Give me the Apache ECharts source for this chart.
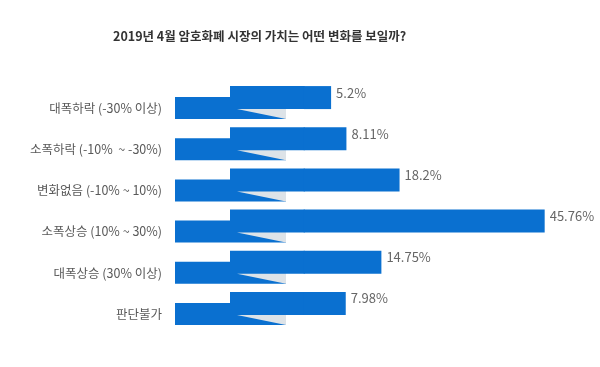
<!DOCTYPE html>
<html>
<head>
<meta charset="utf-8">
<script src="https://cdn.jsdelivr.net/npm/echarts@6/dist/echarts.min.js"></script>
<style>
html,body{margin:0;padding:0;background:#fff;}
#chart{width:600px;height:367px;}
</style>
</head>
<body>
<div id="chart"></div>
<script>
const titleText = '2019년 4월 암호화폐 시장의 가치는 어떤 변화를 보일까?';
const categories = ['대폭하락 (-30% 이상)', '소폭하락 (-10%  ~ -30%)', '변화없음 (-10% ~ 10%)', '소폭상승 (10% ~ 30%)', '대폭상승 (30% 이상)', '판단불가'];
const values = [5.2, 8.11, 18.2, 45.76, 14.75, 7.98];

const BLUE = '#0a70d0';
const GRAY = '#dde3e8';
const FONT = '"Noto Sans CJK KR", "Noto Sans", sans-serif';

const chart = echarts.init(document.getElementById('chart'), null, {renderer: 'canvas'});

function renderDeco(params, api) {
  const idx = api.value(0);
  const cs = params.coordSys;
  const left = cs.x;
  const zero = api.coord([0, idx]);
  const x0 = zero[0], cy = zero[1];
  return {
    type: 'group',
    children: [
      {type: 'rect', shape: {x: left - 55, y: cy - 0.5, width: 111, height: 22}, style: {fill: BLUE}},
      {type: 'rect', shape: {x: left, y: cy - 11.5, width: x0 - left + 1, height: 23}, style: {fill: BLUE}},
      {type: 'polygon', shape: {points: [[left + 7, cy + 11.5], [left + 56, cy + 11.5], [left + 56, cy + 21.5]]}, style: {fill: GRAY}}
    ]
  };
}

chart.setOption({
  animation: false,
  backgroundColor: '#fff',
  title: {
    text: titleText,
    left: 108,
    top: 25,
    textStyle: {fontFamily: FONT, fontSize: 12.5, fontWeight: 'bold', color: '#333'}
  },
  grid: {left: 230, top: 77, width: 337, height: 247, containLabel: false},
  xAxis: {
    type: 'value', min: -14, max: 50, show: false
  },
  yAxis: {
    type: 'category', data: categories, inverse: true,
    axisLine: {show: false}, axisTick: {show: false}, splitLine: {show: false},
    axisLabel: {margin: 68, fontFamily: FONT, fontSize: 12.5, color: '#595959', verticalAlign: 'top', lineHeight: 21}
  },
  series: [
    {
      type: 'custom', renderItem: renderDeco,
      data: categories.map((c, i) => [i]),
      encode: {y: 0}, silent: true, z: 1
    },
    {
      type: 'bar', data: values, barWidth: 23, z: 2,
      itemStyle: {color: BLUE},
      label: {
        show: true, position: 'right', distance: 5, offset: [0, -5],
        formatter: p => p.value + '%',
        fontFamily: FONT, fontSize: 13, color: '#666'
      }
    }
  ]
});
</script>
</body>
</html>
